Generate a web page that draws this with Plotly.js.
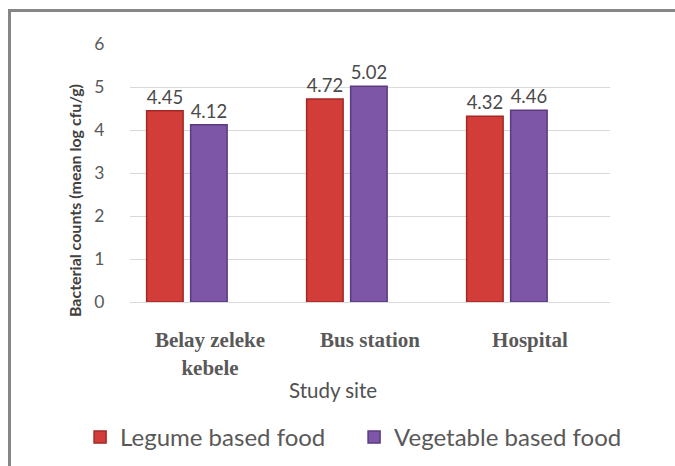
<!DOCTYPE html>
<html>
<head>
<meta charset="utf-8">
<script src="https://cdn.plot.ly/plotly-3.0.1.min.js"></script>
<style>
  html, body { margin: 0; padding: 0; background: #fff; overflow: hidden; }
  #wrap { position: relative; width: 675px; height: 466px; overflow: hidden; }
  #chart { position: absolute; left: 0; top: 0; width: 675px; height: 466px; }
  #frame { position: absolute; left: 8px; top: 9px; width: 700px; height: 500px;
           border-top: 3px solid #868686; border-left: 3px solid #868686; pointer-events: none; }
</style>
</head>
<body>
<div id="wrap">
  <div id="chart"></div>
  <div id="frame"></div>
</div>
<script>
const sites = ["Belay zeleke<br>kebele", "Bus station", "Hospital"];
const legumeValues = [4.45, 4.72, 4.32];
const vegetableValues = [4.12, 5.02, 4.46];
const seriesNames = ["Legume based food", "Vegetable based food"];
const yTickValues = [0, 1, 2, 3, 4, 5, 6];
const xTitle = "Study site";
const yTitle = "Bacterial counts (mean log cfu/g)";

const labelFont = { family: "Lato, 'Liberation Sans', sans-serif", size: 19.5, color: "#4a4a4a" };

const traces = [
  {
    type: "bar", name: seriesNames[0], x: sites, y: legumeValues,
    width: 0.228, offset: -0.396,
    marker: { color: "#d23d39", line: { color: "#a32824", width: 1.5 } },
    text: legumeValues.map(v => v.toFixed(2)), textposition: "outside",
    textfont: labelFont, cliponaxis: false, hoverinfo: "x+y"
  },
  {
    type: "bar", name: seriesNames[1], x: sites, y: vegetableValues,
    width: 0.228, offset: -0.121,
    marker: { color: "#7e56a8", line: { color: "#5a3b80", width: 1.5 } },
    text: vegetableValues.map(v => v.toFixed(2)), textposition: "outside",
    textfont: labelFont, cliponaxis: false, hoverinfo: "x+y"
  }
];

const layout = {
  width: 675, height: 466,
  margin: { l: 130, r: 65, t: 44, b: 164, pad: 0, autoexpand: false },
  paper_bgcolor: "#ffffff", plot_bgcolor: "#ffffff",
  barmode: "overlay",
  showlegend: true,
  xaxis: {
    type: "category", range: [-0.5, 2.5],
    showgrid: false, showline: false, zeroline: false,
    ticks: "outside", ticklen: 19, tickcolor: "rgba(0,0,0,0)",
    tickfont: { family: "'Liberation Serif', 'Times New Roman', serif", size: 21, color: "#595959", weight: "bold" },
    fixedrange: true, automargin: false
  },
  yaxis: {
    range: [0, 6], tickvals: yTickValues, ticktext: yTickValues.map(String),
    showgrid: true, gridcolor: "#d9d9d9", gridwidth: 1,
    zeroline: true, zerolinecolor: "#d9d9d9", zerolinewidth: 1,
    showline: false,
    ticks: "outside", ticklen: 21, tickcolor: "rgba(0,0,0,0)",
    tickfont: { family: "Lato, 'Liberation Sans', sans-serif", size: 17.5, color: "#595959" },
    fixedrange: true, automargin: false
  },
  legend: {
    orientation: "h", xref: "paper", yref: "paper",
    x: -0.104, xanchor: "left", y: -0.525, yanchor: "middle",
    font: { family: "Lato, 'Liberation Sans', sans-serif", size: 24, color: "#595959" },
    itemwidth: 30, traceorder: "normal",
    entrywidth: 229, entrywidthmode: "pixels"
  },
  annotations: [
    {
      text: xTitle, xref: "paper", yref: "paper", x: 0.423, y: -0.343,
      xanchor: "center", yanchor: "middle", showarrow: false,
      font: { family: "Lato, 'Liberation Sans', sans-serif", size: 20.5, color: "#505050" }
    },
    {
      text: yTitle, xref: "paper", yref: "paper", x: -0.1167, y: 0.395,
      xanchor: "center", yanchor: "middle", showarrow: false, textangle: -90,
      font: { family: "Lato, 'Liberation Sans', sans-serif", size: 16, color: "#404040", weight: "bold" }
    }
  ]
};

Plotly.newPlot("chart", traces, layout, { displayModeBar: false, staticPlot: true });
</script>
</body>
</html>
